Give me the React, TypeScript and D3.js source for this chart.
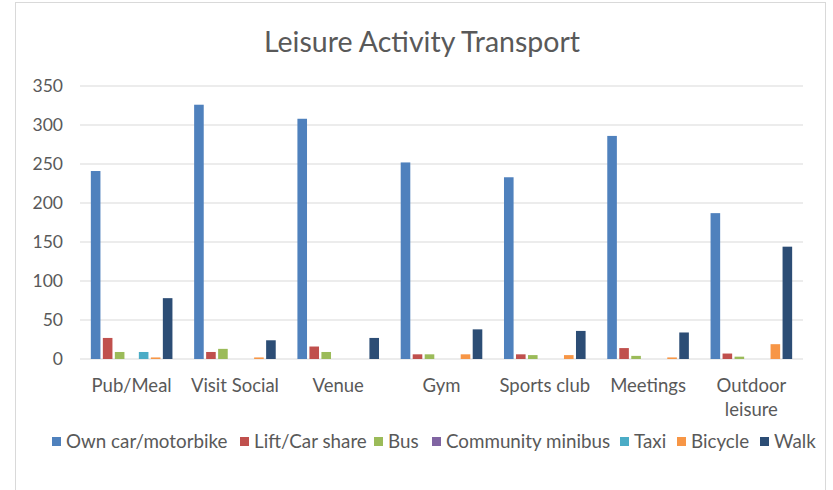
import React from "react";
import * as d3 from "d3";

const categories = ["Pub/Meal", "Visit Social", "Venue", "Gym", "Sports club", "Meetings", "Outdoor leisure"];
const seriesNames = ["Own car/motorbike", "Lift/Car share", "Bus", "Community minibus", "Taxi", "Bicycle", "Walk"];
const ownCar = [241, 326, 308, 252, 233, 286, 187];
const liftShare = [27, 9, 16, 6, 6, 14, 7];
const bus = [9, 13, 9, 6, 5, 4, 3];
const minibus = [0, 0, 0, 0, 0, 0, 0];
const taxi = [9, 0, 0, 0, 0, 0, 0];
const bicycle = [2, 2, 0, 6, 5, 2, 19];
const walk = [78, 24, 27, 38, 36, 34, 144];
const yTicks = [0, 50, 100, 150, 200, 250, 300, 350];
const colors = ["#4F81BD", "#C0504D", "#9BBB59", "#8064A2", "#4BACC6", "#F79646", "#2C4D75"];

const seriesValues = [ownCar, liftShare, bus, minibus, taxi, bicycle, walk];

const W = 833;
const H = 490;
const plot = { left: 80, right: 803, top: 86, bottom: 359 };
const FONT = "Lato, 'Open Sans', sans-serif";
const TEXT = "#595959";

export default function App() {
  const x0 = d3.scaleBand<string>().domain(categories).range([plot.left, plot.right]).padding(0);
  const groupW = 84;
  const bw = x0.bandwidth();
  const x1 = d3
    .scaleBand<string>()
    .domain(seriesNames)
    .range([(bw - groupW) / 2, (bw + groupW) / 2])
    .paddingInner(0.2)
    .paddingOuter(0.1);
  const y = d3.scaleLinear().domain([0, 350]).range([plot.bottom, plot.top]);

  const legendX = [52, 240, 374, 432, 620, 677, 760];

  return (
    <svg width={W} height={H} style={{ position: "absolute", left: 0, top: 0, display: "block" }}>
      <rect x={0} y={0} width={W} height={H} fill="#fff" />
      <rect x={15.5} y={2.5} width={810} height={500} fill="#fff" stroke="#d9d9d9" strokeWidth={1} />
      <text x={422} y={52} textAnchor="middle" fontFamily={FONT} fontSize={28.5} fill={TEXT}>
        Leisure Activity Transport
      </text>
      {yTicks.map((t) => (
        <g key={t}>
          <line x1={plot.left} x2={plot.right} y1={y(t)} y2={y(t)} stroke="#d9d9d9" strokeWidth={1} />
          <text x={63} y={y(t)} dy="0.36em" textAnchor="end" fontFamily={FONT} fontSize={17.5} fill={TEXT}>
            {t}
          </text>
        </g>
      ))}
      {categories.map((c, ci) => (
        <g key={c} transform={`translate(${x0(c)},0)`}>
          {seriesNames.map((s, si) => {
            const v = seriesValues[si][ci];
            if (v <= 0) return null;
            return (
              <rect
                key={s}
                x={x1(s)}
                y={y(v)}
                width={x1.bandwidth()}
                height={y(0) - y(v)}
                fill={colors[si]}
              />
            );
          })}
        </g>
      ))}
      {categories.map((c) => {
        const words = c === "Outdoor leisure" ? ["Outdoor", "leisure"] : [c];
        return (
          <text key={c} textAnchor="middle" fontFamily={FONT} fontSize={18.5} fill={TEXT}>
            {words.map((w, i) => (
              <tspan key={w} x={(x0(c) as number) + bw / 2} y={392 + i * 24}>
                {w}
              </tspan>
            ))}
          </text>
        );
      })}
      {seriesNames.map((s, i) => (
        <g key={s}>
          <rect x={legendX[i]} y={437} width={9} height={9} fill={colors[i]} />
          <text x={legendX[i] + 14} y={448} fontFamily={FONT} fontSize={18.8} fill={TEXT}>
            {s}
          </text>
        </g>
      ))}
    </svg>
  );
}
